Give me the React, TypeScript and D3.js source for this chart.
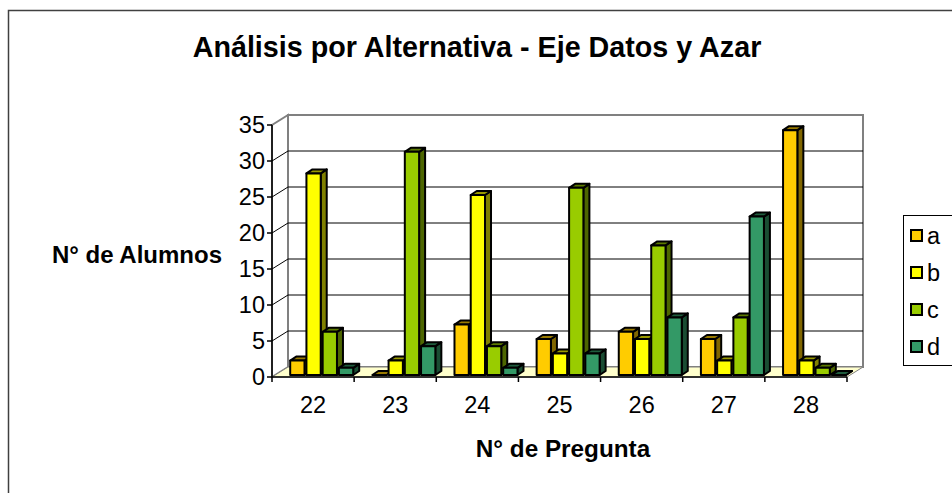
import React from "react";
import * as d3 from "d3";

const categories = ["22", "23", "24", "25", "26", "27", "28"];
const seriesNames = ["a", "b", "c", "d"];
const seriesA = [2, 0, 7, 5, 6, 5, 34];
const seriesB = [28, 2, 25, 3, 5, 2, 2];
const seriesC = [6, 31, 4, 26, 18, 8, 1];
const seriesD = [1, 4, 1, 3, 8, 22, 0];
const yTicks = [0, 5, 10, 15, 20, 25, 30, 35];
const colors = ["#FFCC00", "#FFFF00", "#99CC00", "#339966"];

const W = 952;
const H = 493;
const FONT = "'Liberation Sans', Arial, sans-serif";

export default function App() {
  const series = [seriesA, seriesB, seriesC, seriesD];
  const x0 = 272;
  const x1 = 847;
  const yFloor = 377;
  const DX = 16;
  const DY = -10;
  const y = d3.scaleLinear().domain([0, 35]).range([yFloor, yFloor - 252]);
  const xCat = d3.scaleBand<string>().domain(categories).range([x0, x1]).padding(0);
  const xSer = d3.scaleBand<string>().domain(seriesNames).range([15, 78]).paddingInner(0.12);
  const barShiftX = 3.2;
  const barShiftY = -2;
  const bdx = 6;
  const bdy = -4;

  const shade = (c: string, k: number) => {
    const col = d3.rgb(c);
    return d3.rgb(col.r * k, col.g * k, col.b * k).formatHex();
  };

  const bars: React.ReactNode[] = [];
  categories.forEach((cat, ci) => {
    seriesNames.forEach((s, si) => {
      const v = series[si][ci];
      const xl = (xCat(cat) as number) + barShiftX + (xSer(s) as number);
      const w = xSer.bandwidth();
      const yb = y(0) + barShiftY;
      const yt = y(v) + barShiftY;
      const c = colors[si];
      const front = `M${xl},${yb}L${xl},${yt}L${xl + w},${yt}L${xl + w},${yb}Z`;
      const side = `M${xl + w},${yb}L${xl + w},${yt}L${xl + w + bdx},${yt + bdy}L${xl + w + bdx},${yb + bdy}Z`;
      const top = `M${xl},${yt}L${xl + bdx},${yt + bdy}L${xl + w + bdx},${yt + bdy}L${xl + w},${yt}Z`;
      bars.push(
        <g key={`${ci}-${si}`} stroke="#000" strokeWidth={2} strokeLinejoin="round">
          <path d={side} fill={shade(c, 0.5)} />
          <path d={top} fill={shade(c, 0.6)} />
          {v > 0 && <path d={front} fill={c} />}
        </g>
      );
    });
  });

  return (
    <svg width={W} height={H} style={{ position: "absolute", left: 0, top: 0, background: "#fff" }}>
      <rect x={8.5} y={10.5} width={1000} height={1000} fill="#fff" stroke="#404040" strokeWidth={1.5} />
      <text x={477} y={57} textAnchor="middle" fontFamily={FONT} fontWeight="bold" fontSize={28.7}>
        Análisis por Alternativa - Eje Datos y Azar
      </text>

      {/* walls */}
      <polygon
        points={`${x0},${y(0)} ${x0},${y(35)} ${x0 + DX},${y(35) + DY} ${x0 + DX},${y(0) + DY}`}
        fill="#fff"
        stroke="#808080"
        strokeWidth={2}
      />
      <rect
        x={x0 + DX}
        y={y(35) + DY}
        width={x1 - x0}
        height={y(0) - y(35)}
        fill="#fff"
        stroke="#808080"
        strokeWidth={2}
      />
      <polygon
        points={`${x0},${y(0)} ${x1},${y(0)} ${x1 + DX},${y(0) + DY} ${x0 + DX},${y(0) + DY}`}
        fill="#FFFFCC"
        stroke="#808080"
        strokeWidth={1}
      />
      {yTicks.filter((t) => t > 0 && t < 35).map((t) => (
        <g key={t} stroke="#000" strokeWidth={1}>
          <line x1={x0} y1={y(t)} x2={x0 + DX} y2={y(t) + DY} />
          <line x1={x0 + DX} y1={y(t) + DY} x2={x1 + DX} y2={y(t) + DY} />
        </g>
      ))}

      {bars}

      {/* axes */}
      <line x1={x0} y1={y(0)} x2={x0} y2={y(35)} stroke="#000" strokeWidth={1.5} />
      <line x1={x0} y1={y(0)} x2={x1} y2={y(0)} stroke="#000" strokeWidth={1.5} />
      {yTicks.map((t) => (
        <g key={t}>
          <line x1={x0 - 5} y1={y(t)} x2={x0} y2={y(t)} stroke="#000" strokeWidth={1.5} />
          <text x={x0 - 7} y={y(t)} dy="0.36em" textAnchor="end" fontFamily={FONT} fontSize={23.5}>
            {t}
          </text>
        </g>
      ))}
      {categories.map((c) => (
        <g key={c}>
          <line x1={xCat(c) as number} y1={y(0)} x2={xCat(c) as number} y2={y(0) + 5} stroke="#000" strokeWidth={1.5} />
          <text
            x={(xCat(c) as number) + xCat.bandwidth() / 2}
            y={405}
            dy="0.36em"
            textAnchor="middle"
            fontFamily={FONT}
            fontSize={23.5}
          >
            {c}
          </text>
        </g>
      ))}
      <line x1={x1} y1={y(0)} x2={x1} y2={y(0) + 5} stroke="#000" strokeWidth={1.5} />

      <text x={563} y={457} textAnchor="middle" fontFamily={FONT} fontWeight="bold" fontSize={24.3}>
        N° de Pregunta
      </text>
      <text x={137} y={263} textAnchor="middle" fontFamily={FONT} fontWeight="bold" fontSize={24}>
        N° de Alumnos
      </text>

      {/* legend */}
      <rect x={903.5} y={215.5} width={100} height={150} fill="#fff" stroke="#000" strokeWidth={1} />
      {seriesNames.map((s, i) => (
        <g key={s}>
          <rect x={911} y={230 + i * 37} width={11} height={11} fill={colors[i]} stroke="#000" strokeWidth={2} />
          <text x={927} y={236 + i * 37} dy="0.36em" fontFamily={FONT} fontSize={23.5}>
            {s}
          </text>
        </g>
      ))}
    </svg>
  );
}
